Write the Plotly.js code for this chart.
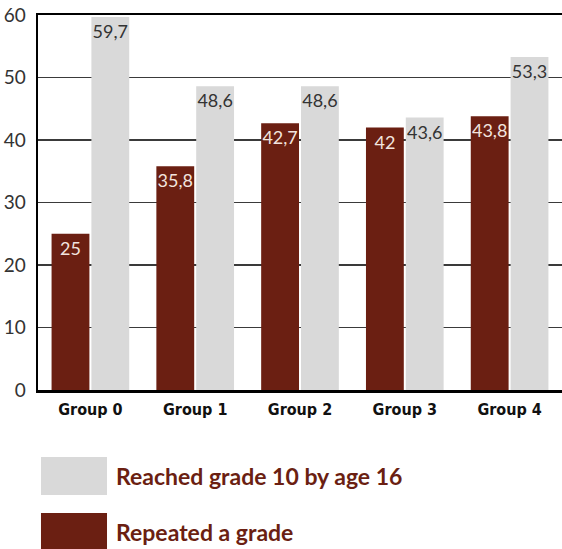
<!DOCTYPE html>
<html>
<head>
<meta charset="utf-8">
<script src="https://cdn.plot.ly/plotly-3.0.1.min.js"></script>
<style>html,body{margin:0;padding:0;background:#fff;}</style>
</head>
<body>
<div id="chart" style="width:562px;height:549px;"></div>
<script>
const categories = ["Group 0", "Group 1", "Group 2", "Group 3", "Group 4"];
const repeatedGrade = [25, 35.8, 42.7, 42, 43.8];
const reachedGrade10 = [59.7, 48.6, 48.6, 43.6, 53.3];
const seriesNames = ["Repeated a grade", "Reached grade 10 by age 16"];
const yTicks = [0, 10, 20, 30, 40, 50, 60];

const RED = "#6b1f12";
const GRAY = "#d9d9d9";

const traces = [
  {
    type: "bar", x: categories, y: repeatedGrade, name: seriesNames[0],
    marker: {color: RED},
    texttemplate: "%{y}", textposition: "inside", insidetextanchor: "end",
    constraintext: "none", textangle: 0,
    textfont: {family: "Lato, sans-serif", size: 18, color: "#f2e4df"},
    hoverinfo: "skip"
  },
  {
    type: "bar", x: categories, y: reachedGrade10, name: seriesNames[1],
    marker: {color: GRAY},
    texttemplate: "%{y}", textposition: "inside", insidetextanchor: "end",
    constraintext: "none", textangle: 0,
    textfont: {family: "Lato, sans-serif", size: 18, color: "#333333"},
    hoverinfo: "skip"
  }
];

const layout = {
  width: 562, height: 549,
  margin: {l: 38, r: 0, t: 15, b: 159, pad: 0},
  paper_bgcolor: "#fff", plot_bgcolor: "#fff",
  separators: ",.",
  barmode: "group", bargap: 0.24, bargroupgap: 0.05,
  showlegend: false,
  xaxis: {
    type: "category", showgrid: false, zeroline: false,
    showline: true, linecolor: "#000", linewidth: 2.5, mirror: true,
    ticks: "", tickfont: {family: "'Liberation Sans Narrow', 'DejaVu Sans Condensed', sans-serif", size: 16, color: "#111", weight: "bold"},
    ticklabelstandoff: 3
  },
  yaxis: {
    range: [0, 60], tickvals: yTicks, showgrid: true, gridcolor: "#3a3a3a", gridwidth: 1.3,
    zeroline: false, showline: true, linecolor: "#000", linewidth: 2.5,
    ticks: "", tickfont: {family: "Lato, sans-serif", size: 19, color: "#333"},
    ticklabelstandoff: 6
  },
  shapes: [
    {type: "rect", xref: "paper", yref: "paper", x0: 0.0057, x1: 0.1317, y0: -0.28, y1: -0.1787, fillcolor: GRAY, line: {width: 0}},
    {type: "rect", xref: "paper", yref: "paper", x0: 0.0057, x1: 0.1317, y0: -0.424, y1: -0.328, fillcolor: RED, line: {width: 0}}
  ],
  annotations: [
    {xref: "paper", yref: "paper", x: 0.145, y: -0.2293, xanchor: "left", yanchor: "middle", showarrow: false,
     text: seriesNames[1], font: {family: "Lato, sans-serif", size: 23, color: RED, weight: "bold"}},
    {xref: "paper", yref: "paper", x: 0.145, y: -0.3787, xanchor: "left", yanchor: "middle", showarrow: false,
     text: seriesNames[0], font: {family: "Lato, sans-serif", size: 23, color: RED, weight: "bold"}}
  ]
};

Plotly.newPlot("chart", traces, layout, {displayModeBar: false, staticPlot: true});
</script>
</body>
</html>
